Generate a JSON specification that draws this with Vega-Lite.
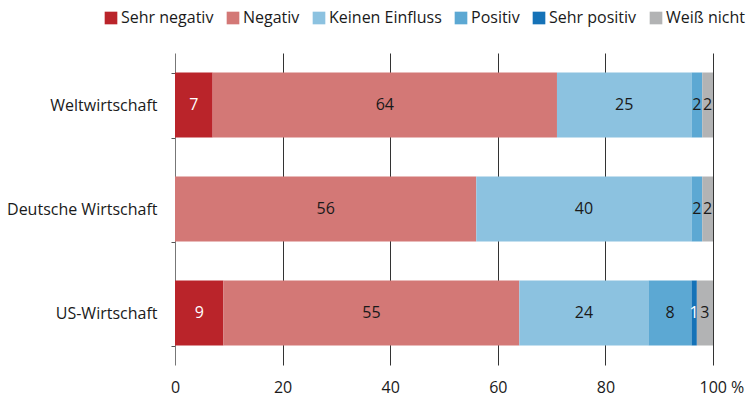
{
  "$schema": "https://vega.github.io/schema/vega-lite/v6.json",
  "width": 538,
  "height": 312,
  "autosize": {"type": "none"},
  "padding": {"left": 175, "top": 53, "right": 39, "bottom": 35},
  "config": {
    "font": "Open Sans",
    "view": {"stroke": null}
  },
  "data": {
    "values": [
      {"region": "Weltwirtschaft", "answer": "Sehr negativ", "k": 0, "value": 7},
      {"region": "Weltwirtschaft", "answer": "Negativ", "k": 1, "value": 64},
      {"region": "Weltwirtschaft", "answer": "Keinen Einfluss", "k": 2, "value": 25},
      {"region": "Weltwirtschaft", "answer": "Positiv", "k": 3, "value": 2},
      {"region": "Weltwirtschaft", "answer": "Sehr positiv", "k": 4, "value": 0},
      {"region": "Weltwirtschaft", "answer": "Weiß nicht", "k": 5, "value": 2},
      {"region": "Deutsche Wirtschaft", "answer": "Sehr negativ", "k": 0, "value": 0},
      {"region": "Deutsche Wirtschaft", "answer": "Negativ", "k": 1, "value": 56},
      {"region": "Deutsche Wirtschaft", "answer": "Keinen Einfluss", "k": 2, "value": 40},
      {"region": "Deutsche Wirtschaft", "answer": "Positiv", "k": 3, "value": 2},
      {"region": "Deutsche Wirtschaft", "answer": "Sehr positiv", "k": 4, "value": 0},
      {"region": "Deutsche Wirtschaft", "answer": "Weiß nicht", "k": 5, "value": 2},
      {"region": "US-Wirtschaft", "answer": "Sehr negativ", "k": 0, "value": 9},
      {"region": "US-Wirtschaft", "answer": "Negativ", "k": 1, "value": 55},
      {"region": "US-Wirtschaft", "answer": "Keinen Einfluss", "k": 2, "value": 24},
      {"region": "US-Wirtschaft", "answer": "Positiv", "k": 3, "value": 8},
      {"region": "US-Wirtschaft", "answer": "Sehr positiv", "k": 4, "value": 1},
      {"region": "US-Wirtschaft", "answer": "Weiß nicht", "k": 5, "value": 3}
    ]
  },
  "transform": [
    {"stack": "value", "groupby": ["region"], "sort": [{"field": "k", "order": "ascending"}], "as": ["x0", "x1"]},
    {"calculate": "(datum.x0 + datum.x1) / 2", "as": "mid"}
  ],
  "encoding": {
    "y": {
      "field": "region",
      "type": "nominal",
      "sort": ["Weltwirtschaft", "Deutsche Wirtschaft", "US-Wirtschaft"],
      "scale": {"paddingInner": 0.375, "paddingOuter": 0.1875},
      "axis": {
        "title": null,
        "tickBand": "extent",
        "tickSize": 4,
        "tickColor": "#555",
        "domainColor": "#777",
        "labelPadding": 14,
        "labelFontSize": 16,
        "labelColor": "#1a1a1a"
      }
    }
  },
  "layer": [
    {
      "mark": {"type": "bar"},
      "encoding": {
        "x": {
          "field": "x0",
          "type": "quantitative",
          "scale": {"domain": [0, 100], "nice": false},
          "axis": {
            "title": null,
            "values": [0, 20, 40, 60, 80, 100],
            "domain": false,
            "ticks": false,
            "grid": true,
            "gridColor": {"condition": {"test": "datum.value == 0", "value": "transparent"}, "value": "#333"},
            "gridWidth": 1,
            "gridOpacity": 1,
            "labelFontSize": 16,
            "labelColor": "#1a1a1a",
            "labelPadding": 14,
            "labelExpr": "datum.value == 100 ? '100 %' : datum.label",
            "labelAlign": {"condition": {"test": "datum.value == 100", "value": "left"}, "value": "center"},
            "labelOffset": {"condition": {"test": "datum.value == 100", "value": -14}, "value": 0}
          }
        },
        "x2": {"field": "x1"},
        "color": {
          "field": "answer",
          "type": "nominal",
          "sort": ["Sehr negativ", "Negativ", "Keinen Einfluss", "Positiv", "Sehr positiv", "Weiß nicht"],
          "scale": {
            "domain": ["Sehr negativ", "Negativ", "Keinen Einfluss", "Positiv", "Sehr positiv", "Weiß nicht"],
            "range": ["#BA242A", "#D37876", "#8CC2E0", "#5CA8D3", "#1572B7", "#B2B3B4"]
          },
          "legend": {
            "title": null,
            "orient": "none",
            "direction": "horizontal",
            "legendX": -72,
            "legendY": -43,
            "symbolType": "square",
            "symbolSize": 160,
            "symbolStrokeWidth": 0,
            "labelFontSize": 16,
            "labelColor": "#1a1a1a",
            "labelOffset": 2,
            "columnPadding": 11
          }
        }
      }
    },
    {
      "transform": [{"filter": "datum.value > 0"}],
      "mark": {"type": "text", "fontSize": 16, "baseline": "middle", "align": "center"},
      "encoding": {
        "x": {"field": "mid", "type": "quantitative"},
        "text": {"field": "value", "type": "quantitative"},
        "color": {
          "condition": {"test": "datum.k == 0 || datum.k == 4", "value": "white"},
          "value": "#1a1a1a"
        }
      }
    }
  ]
}
